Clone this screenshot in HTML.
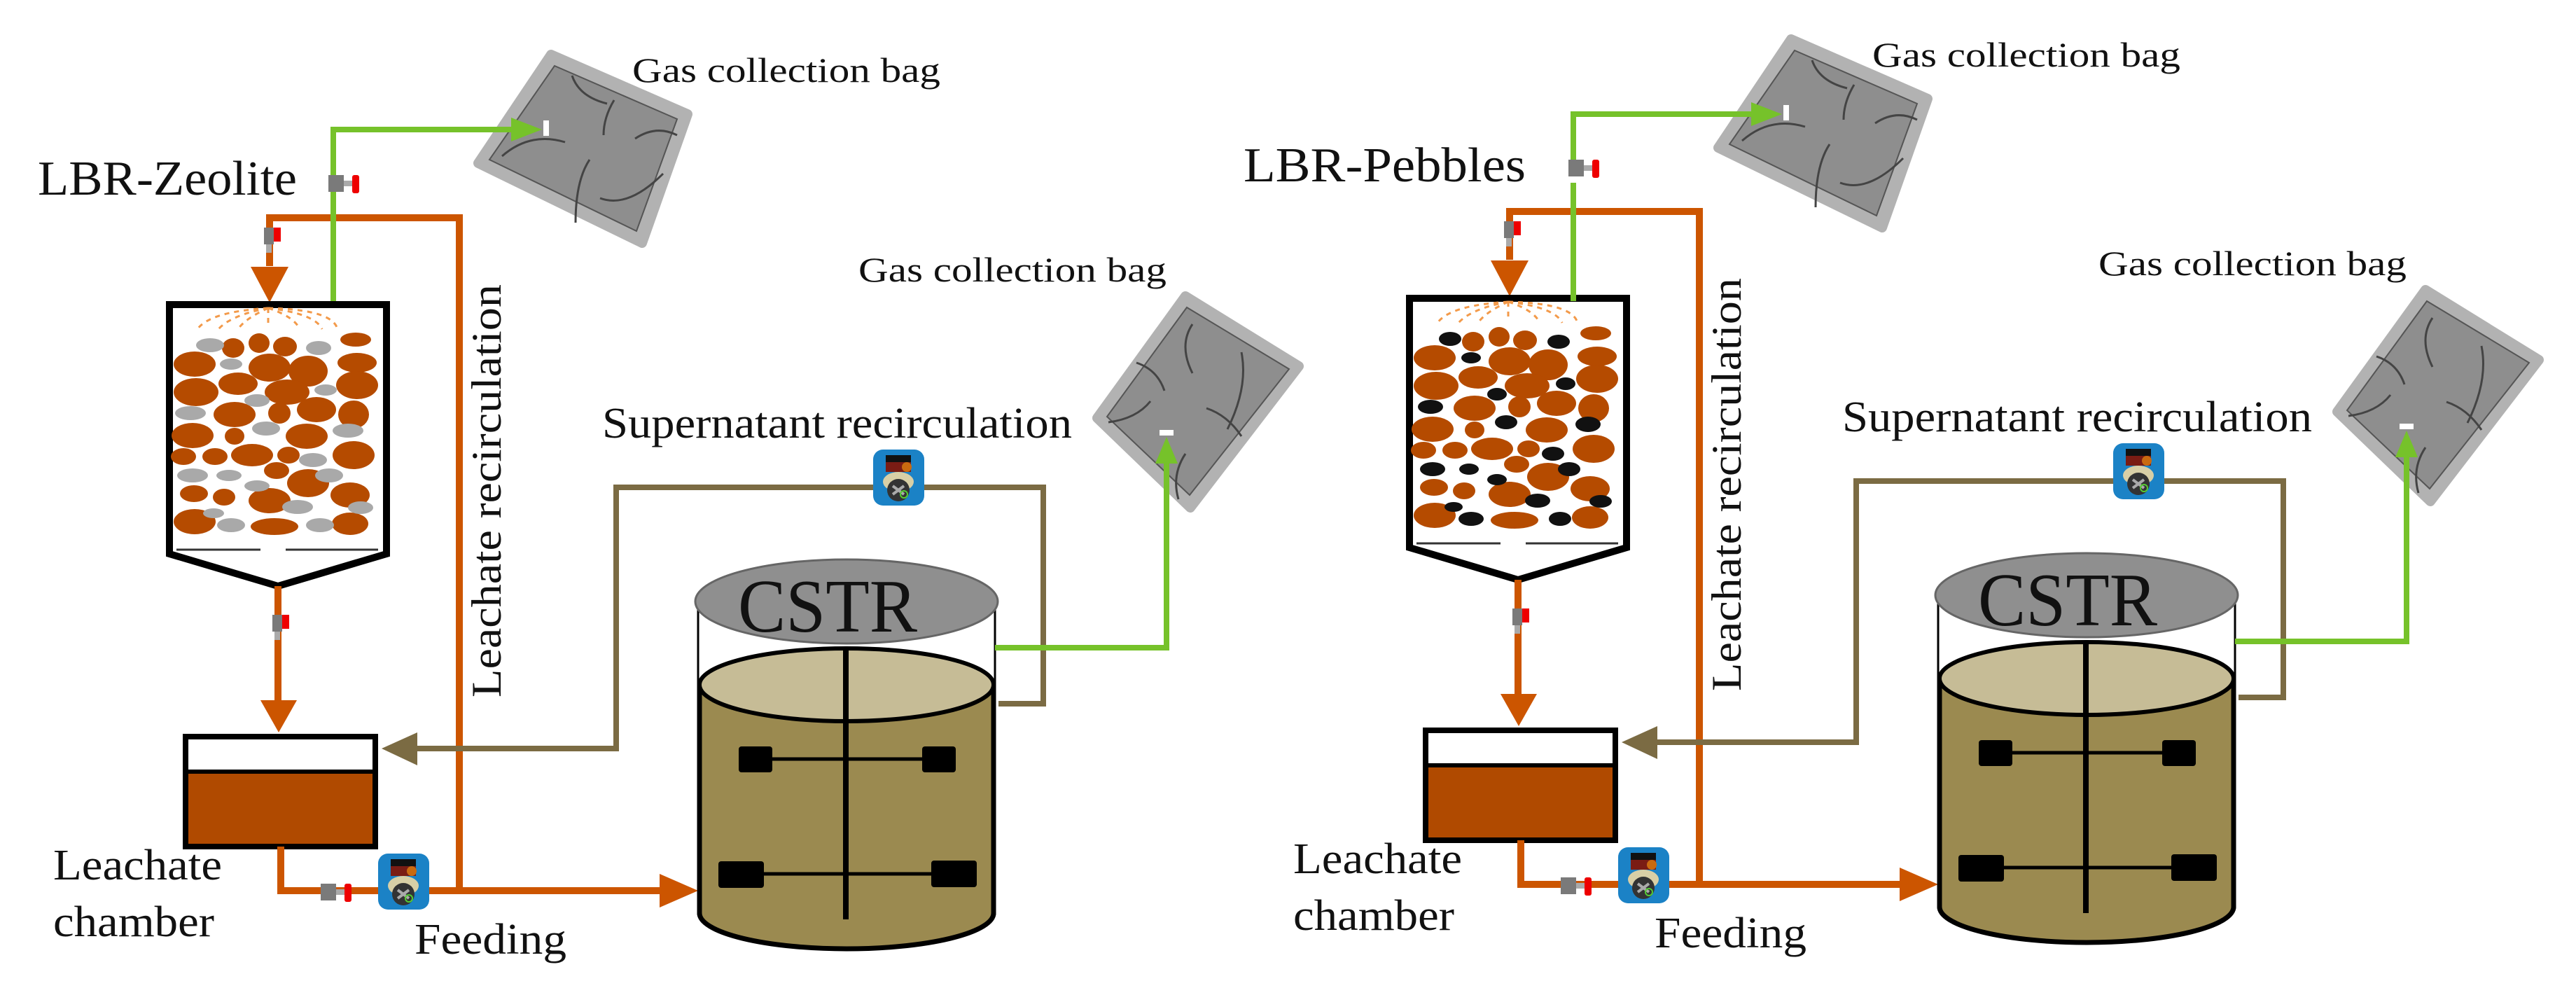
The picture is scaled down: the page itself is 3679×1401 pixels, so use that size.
<!DOCTYPE html>
<html><head><meta charset="utf-8">
<style>
html,body{margin:0;padding:0;background:#fff;}
svg{display:block;}
svg text{font-family:"Liberation Serif","Times New Roman",serif;}
</style></head>
<body>
<svg width="3679" height="1401" viewBox="0 0 3679 1401" xmlns="http://www.w3.org/2000/svg" style="font-family:'Liberation Serif','Times New Roman',serif">
<defs>
  <g id="bag1">
    <polygon points="0,0 195,85 130,269 -104,155" fill="#b2b2b2" stroke="#b2b2b2" stroke-width="14" stroke-linejoin="round"/>
    <polygon points="5,16 180,92 122,252 -88,150" fill="#8e8e8e" stroke="#555" stroke-width="2"/>
    <path d="M30,30 q10,30 50,40 M90,65 q-15,25 -15,50 M55,150 q-20,30 -20,90 M-70,145 q40,-35 90,-20 M120,120 q30,-20 60,-5 M70,205 q40,15 90,-35" fill="none" stroke="#444" stroke-width="3"/>
  </g>
  <g id="bag2">
    <polygon points="0,0 162,100 7,302 -126,174" fill="#b2b2b2" stroke="#b2b2b2" stroke-width="14" stroke-linejoin="round"/>
    <polygon points="2,16 148,104 6,284 -112,172" fill="#8e8e8e" stroke="#555" stroke-width="2"/>
    <path d="M10,40 q-20,30 0,70 M80,80 q10,50 -20,110 M-70,95 q30,10 40,40 M30,160 q30,10 50,40 M0,225 q-20,30 -10,65 M-110,180 q40,-5 60,-30" fill="none" stroke="#444" stroke-width="3"/>
  </g>
  <g id="pump">
    <rect x="0" y="0" width="73" height="80" rx="14" fill="#1b82c6"/>
    <rect x="18" y="8" width="36" height="10" fill="#111"/>
    <rect x="18" y="18" width="36" height="14" fill="#7a1c14"/>
    <circle cx="48" cy="25" r="7" fill="#c96a10"/>
    <ellipse cx="36" cy="46" rx="22" ry="14" fill="#d8cfa6"/>
    <circle cx="36" cy="58" r="16" fill="#333"/>
    <path d="M28,52 l16,12 M44,52 l-16,12" stroke="#aaa" stroke-width="4"/>
    <circle cx="44" cy="64" r="5" fill="none" stroke="#5c3" stroke-width="2"/>
  </g>
  <g id="valveH"><rect x="0" y="0" width="22" height="24" fill="#7a7a7a"/><rect x="22" y="8" width="12" height="8" fill="#aaa"/><rect x="34" y="0" width="10" height="26" rx="3" fill="#e00"/></g>
  <g id="valveV"><rect x="-8" y="0" width="14" height="24" fill="#7a7a7a"/><rect x="-5" y="24" width="8" height="12" fill="#aaa"/><rect x="6" y="0" width="10" height="20" fill="#e00"/></g>

  <g id="common">
    <polyline points="385,380 385,311 656,311 656,1272" fill="none" stroke="#cc5500" stroke-width="10"/>
    <polygon points="358,381 412,381 385,432" fill="#cc5500"/>
    <use href="#valveV" x="385" y="325"/>
    <line x1="476" y1="435" x2="476" y2="270" stroke="#76c22a" stroke-width="8"/>
    <path d="M242,435 L242,791 L397,837 L552,791 L552,435 Z" fill="none" stroke="#000" stroke-width="10"/>
    <line x1="252" y1="785" x2="372" y2="785" stroke="#333" stroke-width="3"/>
    <line x1="408" y1="785" x2="540" y2="785" stroke="#333" stroke-width="3"/>
    <g fill="none" stroke="#f39a4a" stroke-width="3" stroke-dasharray="7 7">
      <path d="M383,440 Q300,445 282,470"/><path d="M383,440 Q330,450 312,470"/>
      <path d="M383,440 Q350,455 340,470"/><path d="M383,440 L383,465"/>
      <path d="M383,440 Q420,452 428,470"/><path d="M383,440 Q450,448 460,470"/>
      <path d="M383,440 Q475,442 482,470"/>
    </g>
    <line x1="397" y1="837" x2="397" y2="1002" stroke="#cc5500" stroke-width="10"/>
    <polygon points="372,1000 424,1000 398,1046" fill="#cc5500"/>
    <use href="#valveV" x="397" y="878"/>
    <rect x="265" y="1052" width="271" height="157" fill="#fff" stroke="#000" stroke-width="8"/>
    <rect x="269" y="1104" width="263" height="101" fill="#b04a00"/>
    <line x1="265" y1="1102" x2="536" y2="1102" stroke="#000" stroke-width="6"/>
    <polyline points="401,1209 401,1272 945,1272" fill="none" stroke="#cc5500" stroke-width="10"/>
    <polygon points="942,1248 942,1296 997,1272" fill="#cc5500"/>
    <use href="#valveH" x="458" y="1262"/>
    <use href="#pump" x="540" y="1219"/>
    <polyline points="1426,1005 1490,1005 1490,696 880,696 880,1069 590,1069" fill="none" stroke="#7b6b43" stroke-width="8"/>
    <polygon points="545,1069 596,1046 596,1093" fill="#7b6b43"/>
    <use href="#pump" x="1247" y="642"/>
    <path d="M997,859 L997,1304 A212,52 0 0 0 1421,1304 L1421,859" fill="#fff" stroke="#000" stroke-width="3"/>
    <path d="M999,978 L999,1304 A210,51 0 0 0 1419,1304 L1419,978 Z" fill="#9b8a50"/>
    <path d="M999,978 L999,1304 A210,51 0 0 0 1419,1304 L1419,978" fill="none" stroke="#000" stroke-width="7"/>
    <ellipse cx="1209" cy="978" rx="210" ry="52" fill="#c6bc96" stroke="#000" stroke-width="6"/>
    <ellipse cx="1209" cy="859" rx="216" ry="60" fill="#8f8f8f" stroke="#666" stroke-width="3"/>
    <text x="1054" y="902" font-family="Liberation Serif" font-size="108" fill="#111" textLength="256" lengthAdjust="spacingAndGlyphs">CSTR</text>
    <line x1="1208" y1="925" x2="1208" y2="1313" stroke="#000" stroke-width="8"/>
    <line x1="1080" y1="1084" x2="1340" y2="1084" stroke="#000" stroke-width="5"/>
    <rect x="1055" y="1066" width="48" height="37" rx="4" fill="#000"/>
    <rect x="1317" y="1066" width="48" height="37" rx="4" fill="#000"/>
    <line x1="1060" y1="1248" x2="1360" y2="1248" stroke="#000" stroke-width="5"/>
    <rect x="1026" y="1230" width="65" height="38" rx="4" fill="#000"/>
    <rect x="1330" y="1229" width="65" height="38" rx="4" fill="#000"/>
    <use href="#bag2" x="1693" y="423"/>
    <polyline points="1421,925 1666,925 1666,660" fill="none" stroke="#76c22a" stroke-width="8"/>
    <polygon points="1650,662 1682,662 1666,624" fill="#76c22a"/>
    <rect x="1656" y="614" width="20" height="8" fill="#fff"/>
    <text x="1226" y="402" font-family="Liberation Serif" font-size="50" fill="#111" textLength="440" lengthAdjust="spacingAndGlyphs">Gas collection  bag</text>
    <text x="860" y="625" font-family="Liberation Serif" font-size="62" fill="#111" textLength="671" lengthAdjust="spacingAndGlyphs">Supernatant recirculation</text>
    <text transform="translate(715,996) rotate(-90)" font-family="Liberation Serif" font-size="60" fill="#111" textLength="590" lengthAdjust="spacingAndGlyphs">Leachate recirculation</text>
    <text x="76" y="1256" font-family="Liberation Serif" font-size="62" fill="#111" textLength="241" lengthAdjust="spacingAndGlyphs">Leachate</text>
    <text x="76" y="1337" font-family="Liberation Serif" font-size="62" fill="#111" textLength="230" lengthAdjust="spacingAndGlyphs">chamber</text>
    <text x="592" y="1362" font-family="Liberation Serif" font-size="62" fill="#111" textLength="217" lengthAdjust="spacingAndGlyphs">Feeding</text>
  </g>

  <g id="top">
    <use href="#bag1" x="787" y="78"/>
    <polyline points="476,272 476,185 738,185" fill="none" stroke="#76c22a" stroke-width="8"/>
    <use href="#valveH" x="469" y="250"/>
    <polygon points="730,168 730,202 774,185" fill="#76c22a"/>
    <rect x="776" y="172" width="8" height="22" fill="#fff"/>
    <text x="903" y="117" font-family="Liberation Serif" font-size="50" fill="#111" textLength="440" lengthAdjust="spacingAndGlyphs">Gas collection  bag</text>
  </g>

  <g id="stonesO" fill="#b54b00">
<ellipse cx="333" cy="497" rx="16" ry="14"/><ellipse cx="370" cy="490" rx="15" ry="14"/><ellipse cx="407" cy="495" rx="17" ry="14"/><ellipse cx="508" cy="485" rx="22" ry="10"/>
<ellipse cx="278" cy="520" rx="30" ry="18"/><ellipse cx="385" cy="525" rx="30" ry="20"/><ellipse cx="440" cy="530" rx="28" ry="22"/><ellipse cx="510" cy="518" rx="28" ry="14"/>
<ellipse cx="280" cy="560" rx="32" ry="20"/><ellipse cx="340" cy="548" rx="28" ry="16"/><ellipse cx="410" cy="560" rx="32" ry="18"/><ellipse cx="510" cy="550" rx="30" ry="20"/>
<ellipse cx="335" cy="592" rx="30" ry="18"/><ellipse cx="399" cy="590" rx="16" ry="15"/><ellipse cx="452" cy="585" rx="28" ry="18"/><ellipse cx="505" cy="592" rx="22" ry="20"/>
<ellipse cx="275" cy="622" rx="30" ry="18"/><ellipse cx="335" cy="623" rx="14" ry="12"/><ellipse cx="438" cy="623" rx="30" ry="18"/>
<ellipse cx="262" cy="652" rx="18" ry="12"/><ellipse cx="307" cy="652" rx="18" ry="12"/><ellipse cx="360" cy="650" rx="30" ry="16"/><ellipse cx="412" cy="650" rx="16" ry="12"/><ellipse cx="505" cy="650" rx="30" ry="20"/>
<ellipse cx="395" cy="672" rx="18" ry="12"/><ellipse cx="440" cy="690" rx="30" ry="20"/>
<ellipse cx="277" cy="705" rx="20" ry="12"/><ellipse cx="320" cy="710" rx="16" ry="12"/><ellipse cx="385" cy="715" rx="30" ry="18"/><ellipse cx="500" cy="707" rx="28" ry="18"/>
<ellipse cx="278" cy="745" rx="30" ry="18"/><ellipse cx="392" cy="752" rx="34" ry="12"/><ellipse cx="500" cy="748" rx="26" ry="16"/>
  </g>
</defs>

<use href="#common"/>
<use href="#top"/>
<text x="54" y="278" font-family="Liberation Serif" font-size="70" fill="#111" textLength="370" lengthAdjust="spacingAndGlyphs">LBR-Zeolite</text>

<use href="#stonesO"/>
<g fill="#a9a9a9">
<ellipse cx="300" cy="493" rx="20" ry="10"/><ellipse cx="455" cy="497" rx="18" ry="10"/><ellipse cx="330" cy="520" rx="16" ry="8"/><ellipse cx="465" cy="557" rx="16" ry="8"/>
<ellipse cx="272" cy="590" rx="22" ry="10"/><ellipse cx="367" cy="572" rx="18" ry="9"/><ellipse cx="380" cy="612" rx="20" ry="10"/><ellipse cx="497" cy="615" rx="22" ry="10"/>
<ellipse cx="447" cy="657" rx="20" ry="10"/><ellipse cx="275" cy="679" rx="22" ry="10"/><ellipse cx="327" cy="679" rx="18" ry="8"/><ellipse cx="470" cy="679" rx="20" ry="10"/>
<ellipse cx="367" cy="694" rx="18" ry="8"/><ellipse cx="425" cy="724" rx="22" ry="10"/><ellipse cx="305" cy="733" rx="15" ry="7"/><ellipse cx="330" cy="750" rx="20" ry="10"/><ellipse cx="457" cy="750" rx="20" ry="10"/><ellipse cx="515" cy="725" rx="18" ry="9"/>
</g>

<g transform="translate(1771,-9)">
<use href="#common"/>
<use href="#stonesO"/>
<g fill="#111">
<ellipse cx="300" cy="493" rx="16" ry="10"/><ellipse cx="455" cy="497" rx="16" ry="10"/><ellipse cx="330" cy="520" rx="14" ry="8"/><ellipse cx="465" cy="557" rx="14" ry="9"/>
<ellipse cx="272" cy="590" rx="18" ry="10"/><ellipse cx="367" cy="572" rx="14" ry="9"/><ellipse cx="380" cy="612" rx="16" ry="10"/><ellipse cx="497" cy="615" rx="18" ry="11"/>
<ellipse cx="447" cy="657" rx="16" ry="10"/><ellipse cx="275" cy="679" rx="18" ry="10"/><ellipse cx="327" cy="679" rx="14" ry="8"/><ellipse cx="470" cy="679" rx="16" ry="10"/>
<ellipse cx="367" cy="694" rx="14" ry="8"/><ellipse cx="425" cy="724" rx="18" ry="10"/><ellipse cx="305" cy="733" rx="13" ry="7"/><ellipse cx="330" cy="750" rx="18" ry="10"/><ellipse cx="457" cy="750" rx="16" ry="10"/><ellipse cx="515" cy="725" rx="16" ry="9"/>
</g>
</g>
<g transform="translate(1771,-22)"><use href="#top"/></g>
<line x1="2247" y1="263" x2="2247" y2="430" stroke="#76c22a" stroke-width="8"/>
<text x="1776" y="259" font-family="Liberation Serif" font-size="70" fill="#111" textLength="403" lengthAdjust="spacingAndGlyphs">LBR-Pebbles</text>
</svg>
</body></html>
